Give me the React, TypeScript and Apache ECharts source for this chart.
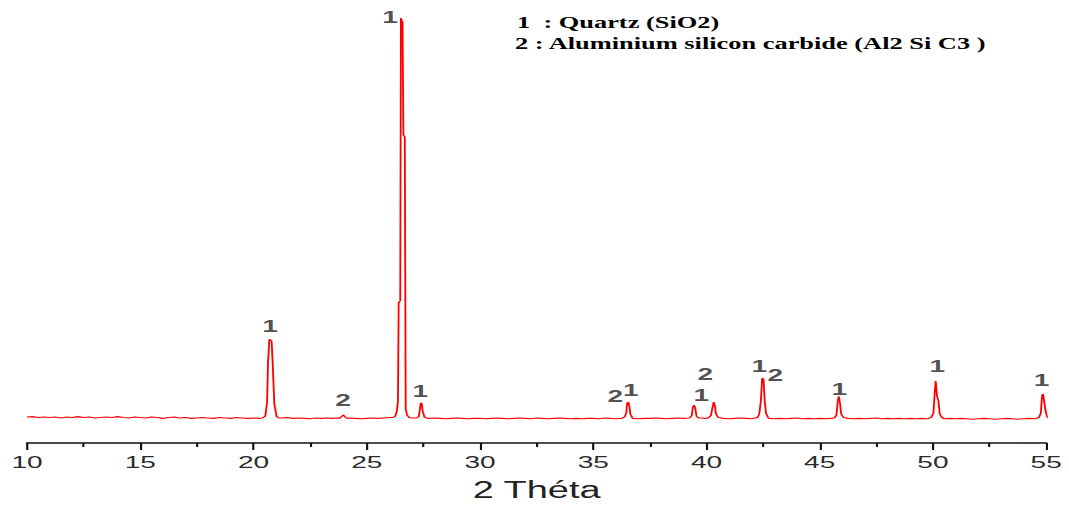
import React, { useEffect, useRef } from "react";
import * as echarts from "echarts";

// Page size and the horizontal stretch applied to the whole drawing
const PAGE_W = 1069;
const PAGE_H = 507;
const STRETCH = 1.65;

// Diffractogram background, sampled every 0.25° from 10° (counts, arbitrary units)
const baselineStart = 10;
const baselineStep = 0.25;
const baselineCounts = [
  61, 62, 60, 61, 60, 61, 59, 61, 60, 62, 60, 61, 59, 60, 61, 60, 62, 60, 59, 61,
  60, 59, 61, 60, 58, 60, 61, 59, 60, 58, 59, 60, 59, 58, 60, 59, 58, 60, 59, 58,
  59, 58, 60, 59, 58, 59, 60, 58, 59, 58, 57, 59, 58, 59, 58, 59, 60, 59, 58, 57,
  58, 59, 58, 59, 60, 61, 60, 60, 60, 60, 59, 58, 59, 58, 57, 58, 59, 58, 57, 58,
  58, 57, 58, 59, 58, 57, 58, 59, 58, 57, 59, 58, 57, 58, 59, 58, 57, 58, 57, 58,
  58, 57, 59, 58, 57, 58, 59, 58, 57, 58, 58, 59, 58, 57, 58, 59, 58, 57, 58, 59,
  58, 57, 59, 58, 57, 58, 59, 58, 57, 58, 59, 58, 57, 58, 57, 58, 59, 57, 58, 57,
  58, 57, 58, 59, 57, 58, 57, 58, 57, 58, 59, 57, 58, 57, 58, 57, 58, 57, 58, 57,
  57, 58, 57, 58, 57, 58, 57, 56, 57, 58, 57, 56, 57, 58, 57, 56, 57, 58, 57, 56,
  57,
];

// Reflection profiles: [2θ, counts]
const peak20_8: number[][] = [
  [20.4, 59], [20.52, 63], [20.6, 95], [20.64, 188], [20.7, 244], [20.8, 240],
  [20.85, 185], [20.92, 92], [21.02, 62], [21.12, 59],
];
const peak23_9: number[][] = [
  [23.8, 58], [23.9, 63], [23.97, 66], [24.05, 61], [24.15, 58],
];
const peak26_6: number[][] = [
  [26.15, 60], [26.25, 62], [26.33, 75], [26.38, 100], [26.41, 330], [26.48, 335],
  [26.51, 1000], [26.58, 990], [26.62, 725], [26.68, 720], [26.72, 80], [26.78, 66],
  [26.87, 60], [26.97, 59],
];
const peak27_4: number[][] = [
  [27.2, 59], [27.3, 62], [27.35, 80], [27.38, 94], [27.43, 93], [27.47, 75],
  [27.55, 61], [27.65, 59],
];
const peak36_5: number[][] = [
  [36.3, 59], [36.4, 62], [36.46, 72], [36.5, 94], [36.56, 96], [36.6, 85],
  [36.64, 68], [36.72, 60],
];
const peak39_4: number[][] = [
  [39.25, 59], [39.35, 64], [39.4, 85], [39.46, 89], [39.51, 80], [39.56, 63],
  [39.65, 59],
];
const peak40_3: number[][] = [
  [40.1, 60], [40.2, 65], [40.26, 82], [40.32, 96], [40.37, 88], [40.42, 68],
  [40.52, 60],
];
const peak42_5: number[][] = [
  [42.25, 60], [42.33, 68], [42.4, 98], [42.46, 153], [42.52, 150], [42.57, 100],
  [42.63, 70], [42.72, 60],
];
const peak45_8: number[][] = [
  [45.65, 59], [45.74, 66], [45.8, 100], [45.84, 110], [45.89, 96], [45.95, 68],
  [46.05, 60],
];
const peak50_1: number[][] = [
  [49.92, 60], [50.02, 70], [50.08, 120], [50.12, 146], [50.18, 110], [50.24, 100],
  [50.3, 68], [50.4, 60],
];
const peak54_9: number[][] = [
  [54.68, 60], [54.76, 70], [54.82, 112], [54.86, 115], [54.92, 95], [54.97, 76],
  [55.04, 62], [55.1, 58],
];

// Phase markers above the reflections
const labelTheta = [20.73, 23.96, 26.03, 27.36, 35.98, 36.66, 39.77, 39.95, 42.33, 43.04, 45.87, 50.19, 54.79];
const labelCounts = [275, 101, 1002, 122, 110, 124, 113, 162, 181, 160, 127, 181, 148];
const labelPhase = ["1", "2", "1", "1", "2", "1", "1", "2", "1", "2", "1", "1", "1"];

const phaseLegend = ["1  : Quartz (SiO2)", "2 : Aluminium silicon carbide (Al2 Si C3 )"];

const axisMin = 10;
const axisMax = 55;
const axisInterval = 5;
const axisTitle = "2 Théta";

function buildScan(): number[][] {
  const profiles = [peak20_8, peak23_9, peak26_6, peak27_4, peak36_5, peak39_4, peak40_3, peak42_5, peak45_8, peak50_1, peak54_9];
  const windows = profiles.map((p) => [p[0][0], p[p.length - 1][0]]);
  const pts: number[][] = [];
  baselineCounts.forEach((c, i) => {
    const t = baselineStart + i * baselineStep;
    if (!windows.some(([a, b]) => t >= a && t <= b)) pts.push([t, c]);
  });
  profiles.forEach((p) => p.forEach((q) => pts.push(q)));
  return pts.sort((a, b) => a[0] - b[0]);
}

export default function App() {
  const ref = useRef<HTMLDivElement>(null);

  useEffect(() => {
    if (!ref.current) return;
    const chart = echarts.init(ref.current, null, { renderer: "svg" });
    const gridLeft = 27 / STRETCH;
    const gridRight = (PAGE_W - 1046) / STRETCH;

    chart.setOption({
      animation: false,
      backgroundColor: "#ffffff",
      grid: { left: gridLeft, right: gridRight, top: 18, bottom: 63, containLabel: false },
      xAxis: {
        type: "value",
        min: axisMin,
        max: axisMax,
        interval: axisInterval,
        name: axisTitle,
        nameLocation: "middle",
        nameGap: 36,
        nameTextStyle: { fontFamily: "Liberation Sans", fontSize: 23, color: "#222" },
        axisLine: { show: true, onZero: false, lineStyle: { color: "#111", width: 1.6 } },
        axisTick: { show: true, length: 7, lineStyle: { color: "#111", width: 1.3 } },
        minorTick: { show: true, splitNumber: 2, length: 4, lineStyle: { color: "#111", width: 1.3 } },
        axisLabel: {
          margin: 11,
          fontFamily: "Liberation Sans",
          fontSize: 17,
          color: "#2b2b2b",
          showMinLabel: true,
          showMaxLabel: true,
        },
        splitLine: { show: false },
      },
      yAxis: { type: "value", min: 0, max: 1000, show: false },
      graphic: phaseLegend.map((txt, i) => ({
        type: "text",
        x: (i === 0 ? 517 : 515) / STRETCH,
        y: i === 0 ? 15 : 36,
        style: {
          text: txt,
          fontFamily: "Liberation Serif",
          fontWeight: "bold",
          fontSize: 16,
          fill: "#000",
        },
      })),
      series: [
        {
          type: "line",
          data: buildScan(),
          showSymbol: false,
          clip: false,
          lineStyle: { color: "#ff0000", width: 1.1 },
        },
        {
          type: "scatter",
          clip: false,
          symbolSize: 1,
          itemStyle: { color: "rgba(0,0,0,0)" },
          data: labelTheta.map((t, i) => [t, labelCounts[i], labelPhase[i]]),
          label: {
            show: true,
            position: "inside",
            formatter: (p: any) => p.data[2],
            fontFamily: "Liberation Sans",
            fontWeight: "bold",
            fontSize: 17,
            color: "#222",
          },
        },
      ],
    });
    return () => chart.dispose();
  }, []);

  return (
    <div
      style={{
        position: "fixed",
        left: 0,
        top: 0,
        width: PAGE_W,
        height: PAGE_H,
        overflow: "hidden",
        background: "#fff",
      }}
    >
      <div
        ref={ref}
        style={{
          width: PAGE_W / STRETCH,
          height: PAGE_H,
          transform: `scaleX(${STRETCH})`,
          transformOrigin: "0 0",
        }}
      />
    </div>
  );
}
